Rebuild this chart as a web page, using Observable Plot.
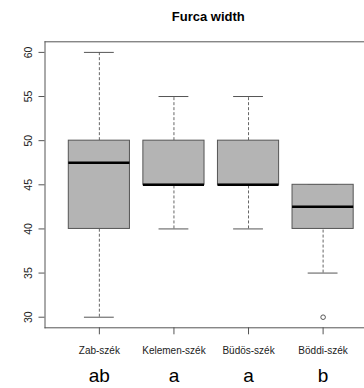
<!DOCTYPE html>
<html>
<head>
<meta charset="utf-8">
<script src="https://cdn.jsdelivr.net/npm/d3@7"></script>
<script src="https://cdn.jsdelivr.net/npm/@observablehq/plot@0.6"></script>
<style>
  html, body { margin: 0; padding: 0; background: #fff; }
  svg { font-family: "Liberation Sans", Arial, sans-serif; }
</style>
</head>
<body>
<div id="chart"></div>
<script>
const title = "Furca width";
const groups = ["Zab-szék", "Kelemen-szék", "Büdös-szék", "Böddi-szék"];
const letters = ["ab", "a", "a", "b"];
const lowWhisker = [30, 40, 40, 35];
const q1 = [40, 45, 45, 40];
const median = [47.5, 45, 45, 42.5];
const q3 = [50, 50, 50, 45];
const highWhisker = [60, 55, 55, 45];
const outlierGroup = ["Böddi-szék"];
const outlierValue = [30];
const yTicks = [30, 35, 40, 45, 50, 55, 60];

const stats = groups.map((g, i) => ({
  g, pos: i + 1, lo: lowWhisker[i], q1: q1[i], med: median[i], q3: q3[i], hi: highWhisker[i]
}));
const outliers = outlierGroup.map((g, i) => ({ pos: groups.indexOf(g) + 1, v: outlierValue[i] }));

const half = 0.41, capHalf = 0.2;
const edge = "#555";

const chart = Plot.plot({
  width: 364,
  height: 388,
  marginTop: 41.3,
  marginBottom: 60.7,
  marginLeft: 44.5,
  marginRight: 0,
  style: { fontFamily: "Liberation Sans, Arial, sans-serif", background: "#fff", overflow: "visible" },
  x: { type: "linear", domain: [0.271, 4.555] },
  y: { domain: [28.8, 61.2] },
  marks: [
    Plot.frame({ anchor: "top", stroke: edge }),
    Plot.frame({ anchor: "bottom", stroke: edge }),
    Plot.frame({ anchor: "left", stroke: edge }),
    // whiskers
    Plot.ruleX(stats, { x: "pos", y1: "q3", y2: "hi", stroke: "#666", strokeDasharray: "3,2" }),
    Plot.ruleX(stats, { x: "pos", y1: "lo", y2: "q1", stroke: "#666", strokeDasharray: "3,2" }),
    // caps
    Plot.ruleY(stats, { y: "hi", x1: d => d.pos - capHalf, x2: d => d.pos + capHalf, stroke: edge }),
    Plot.ruleY(stats, { y: "lo", x1: d => d.pos - capHalf, x2: d => d.pos + capHalf, stroke: edge }),
    // boxes
    Plot.rect(stats, { x1: d => d.pos - half, x2: d => d.pos + half, y1: "q1", y2: "q3", fill: "#b4b4b4", stroke: edge, strokeWidth: 1 }),
    // medians
    Plot.ruleY(stats, { y: "med", x1: d => d.pos - half, x2: d => d.pos + half, stroke: "#000", strokeWidth: 2.5 }),
    // outliers
    Plot.dot(outliers, { x: "pos", y: "v", r: 2.3, stroke: "#555", fill: "none", strokeWidth: 1 }),
    // axes
    Plot.axisY(yTicks, { tickSize: 6, tickPadding: 7, tickRotate: -90, fontSize: 10.5, stroke: edge, fill: "#222", label: null }),
    Plot.axisX([1, 2, 3, 4], { tickSize: 7, tickPadding: 12, tickFormat: d => groups[d - 1], fontSize: 10, stroke: edge, fill: "#222", label: null }),
    Plot.axisX([1, 2, 3, 4], { tickSize: 0, tickPadding: 40.5, tickFormat: d => letters[d - 1], fontSize: 19, fill: "#000", label: null }),
    // title
    Plot.text([title], { frameAnchor: "top", dx: 3.5, dy: -21, lineAnchor: "bottom", fontWeight: "bold", fontSize: 13, fill: "#000" })
  ]
});
document.getElementById("chart").appendChild(chart);
</script>
</body>
</html>
